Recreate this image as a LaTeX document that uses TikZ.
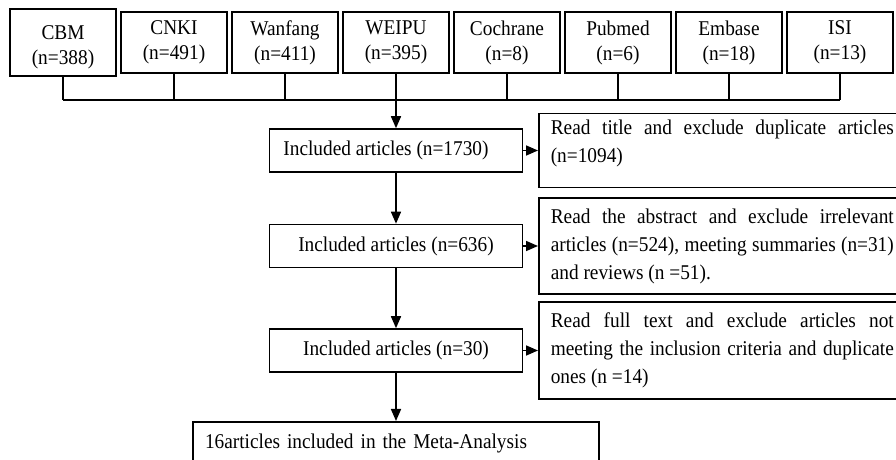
\documentclass[tikz,border=0pt]{standalone}
\usepackage{fontspec}
\setmainfont{Liberation Serif}[FakeStretch=0.92]
\usetikzlibrary{arrows.meta}

\begin{document}
\begin{tikzpicture}[x=0.5pt,y=-0.5pt,line width=0.8pt,font=\fontsize{10.5pt}{12.5pt}\selectfont,
db/.style = {draw, align=center, minimum width=52.75pt, minimum height=30.5pt},
inc/.style = {draw, minimum width=126.5pt, minimum height=21.5pt},
excl/.style = {draw, anchor=west, text width=171.5pt, inner xsep=6pt, align=justify, font=\fontsize{10.5pt}{14pt}\selectfont},
arr/.style = {-{Triangle[length=6pt,width=5pt]}},
node distance={55.5pt}]
\useasboundingbox (0,0) rectangle (896,460);
\node[db] (cbm) at (63,42.5) {\rule{0pt}{12pt}CBM\\(n=388)};
\node[db] (cnki) [right of=cbm] {CNKI\\(n=491)};
\node[db] (wanfang) [right of=cnki] {Wanfang\\(n=411)};
\node[db] (weipu) [right of=wanfang] {WEIPU\\(n=395)};
\node[db] (cochrane) [right of=weipu] {Cochrane\\(n=8)};
\node[db] (pubmed) [right of=cochrane] {Pubmed\\(n=6)};
\node[db] (embase) [right of=pubmed] {Embase\\(n=18)};
\node[db] (isi) [right of=embase] {ISI\\(n=13)};
\coordinate (bus) at (0,100);
\node[inc] (n1730) at (396,150.5) {Included articles (n=1730)\hspace*{10pt}};
\node[inc] (n636) at (396,246) {Included articles (n=636)};
\node[inc] (n30) at (396,350.5) {Included articles (n=30)};
\node[excl, minimum height=37pt, text depth=23pt] (x1) at (538,150.5) {Read title and exclude duplicate articles\linebreak (n=1094)};
\node[excl, minimum height=48pt] (x2) at (538,246) {Read the abstract and exclude irrelevant\linebreak articles (n=524), meeting summaries (n=31)\linebreak and reviews (n =51).};
\node[excl, minimum height=48.5pt] (x3) at (538,350.5) {Read full text and exclude articles not\linebreak meeting the inclusion criteria and duplicate\linebreak ones (n =14)};
\node[draw, anchor=north, text width=191pt, inner sep=6pt, align=left] (meta) at (396,421) {16articles included in the Meta-Analysis};
\foreach \n in {cbm,cnki,wanfang,weipu,cochrane,pubmed,embase,isi}
  \draw (\n.south) -- (\n.south |- bus);
\draw (cbm.south |- bus) -- (isi.south |- bus);
\draw[arr] (weipu.south) -- (n1730.north);
\draw[arr] (n1730) -- (n636);
\draw[arr] (n636) -- (n30);
\draw[arr] (n30) -- (meta);
\draw[arr] (n1730) -- (x1);
\draw[arr] (n636) -- (x2);
\draw[arr] (n30) -- (x3);
\end{tikzpicture}
\end{document}
